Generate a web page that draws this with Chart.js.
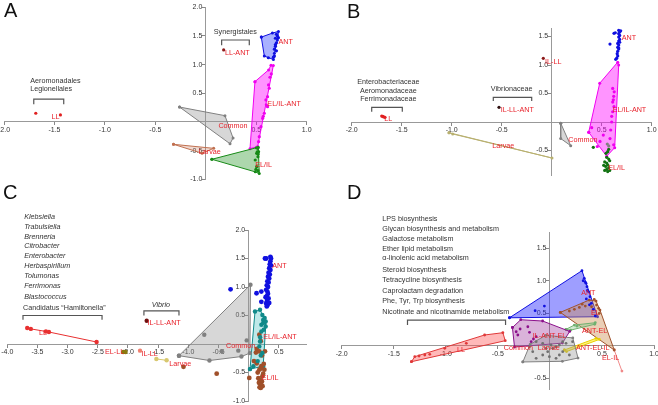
<!DOCTYPE html>
<html><head><meta charset="utf-8">
<script src="https://cdn.jsdelivr.net/npm/chart.js@4.4.1/dist/chart.umd.min.js"></script>
<style>
body{margin:0;width:658px;height:405px;overflow:hidden;background:#fff;position:relative;font-family:"Liberation Sans",Arial,sans-serif}
canvas{position:absolute}
.letter{position:absolute;font-size:20px;line-height:20px;color:#111;font-family:"Liberation Sans",Arial,sans-serif}
</style></head>
<body>
<canvas id="cA" width="330" height="195" style="left:0;top:0"></canvas>
<canvas id="cB" width="328" height="195" style="left:330px;top:0"></canvas>
<canvas id="cC" width="330" height="210" style="left:0;top:195px"></canvas>
<canvas id="cD" width="328" height="210" style="left:330px;top:195px"></canvas>
<div class="letter" style="left:4px;top:0px">A</div>
<div class="letter" style="left:347px;top:1px">B</div>
<div class="letter" style="left:3px;top:182px">C</div>
<div class="letter" style="left:347px;top:182px">D</div>
<script>
// ---------- Panel A data ----------
const A_ANT_hull=[[0.55,1.48],[0.66,1.55],[0.72,1.58],[0.71,1.43],[0.68,1.20],[0.67,1.09],[0.58,1.15]];
const A_ANT_pts=[[0.69,1.46],[0.70,1.38],[0.69,1.32],[0.68,1.27],[0.68,1.15],[0.72,1.47],[0.70,1.53],[0.62,1.12],[0.70,1.24],[0.69,1.35],[0.67,1.13],[0.71,1.50]];
const A_ELILANT_hull=[[0.487,0.703],[0.622,0.908],[0.646,0.99],[0.669,0.983],[0.514,-0.43],[0.438,-0.465]];
const A_ELILANT_pts=[[0.622,0.646],[0.629,0.588],[0.612,0.442],[0.596,0.384],[0.612,0.267],[0.58,0.152],[0.563,0.064],[0.547,-0.082],[0.53,-0.256],[0.523,-0.343],[0.636,0.78],[0.649,0.838],[0.60,0.30],[0.57,0.10]];
const A_ELIL_hull=[[0.06,-0.651],[0.50,-0.45],[0.52,-0.44],[0.53,-0.90],[0.49,-0.87]];
const A_ELIL_pts=[[0.514,-0.46],[0.523,-0.518],[0.504,-0.547],[0.517,-0.605],[0.49,-0.663],[0.504,-0.78],[0.497,-0.826],[0.517,-0.849],[0.51,-0.52],[0.52,-0.56]];
const A_Common_hull=[[-0.26,0.26],[0.19,0.11],[0.27,-0.28],[0.24,-0.38]];
const A_Larvae_hull=[[-0.32,-0.39],[0.078,-0.46],[-0.037,-0.546]];
const A_LL_pts=[[-1.685,0.152],[-1.441,0.122]];
const A_LLANT_pts=[[0.177,1.257]];
const A_labels=[["LL",-1.53,0.09],["LL-ANT",0.19,1.21],["ANT",0.72,1.40],["EL/IL-ANT",0.61,0.31],["Common",0.125,-0.07],["Larvae",-0.07,-0.52],["EL/IL",0.49,-0.75]];
const A_texts=[["Aeromonadales",-1.74,0.72,"left"],["Legionellales",-1.74,0.57,"left"],["Synergistales",0.293,1.565,"center"]];
const A_brackets=[[-1.705,-1.408,0.40,0.31],[0.157,0.431,1.43,1.34]];

// ---------- Panel B data ----------
const B_ANT_pts=[[0.67,1.61],[0.68,1.58],[0.67,1.55],[0.68,1.52],[0.67,1.49],[0.68,1.45],[0.67,1.42],[0.66,1.38],[0.67,1.35],[0.66,1.31],[0.67,1.28],[0.66,1.24],[0.655,1.2],[0.66,1.16],[0.65,1.12],[0.64,1.1],[0.623,1.556],[0.636,1.567],[0.583,1.368],[0.69,1.6],[0.68,1.4],[0.67,1.3]];
const B_ELILANT_hull=[[0.37,-0.18],[0.48,0.68],[0.66,1.05],[0.67,1.0],[0.63,-0.45],[0.55,-0.6]];
const B_ELILANT_pts=[[0.61,0.59],[0.625,0.53],[0.62,0.45],[0.616,0.39],[0.623,0.27],[0.61,0.18],[0.6,0.1],[0.6,0.0],[0.59,-0.14],[0.516,-0.23],[0.583,-0.29],[0.456,-0.43],[0.483,-0.34],[0.62,-0.4],[0.40,-0.1],[0.61,0.35]];
const B_ELIL_pts=[[0.416,-0.444],[0.543,-0.55],[0.57,-0.48],[0.56,-0.52],[0.55,-0.62],[0.57,-0.65],[0.53,-0.7],[0.55,-0.72],[0.56,-0.75],[0.54,-0.78],[0.57,-0.8],[0.55,-0.83],[0.53,-0.85],[0.56,-0.87],[0.58,-0.85],[0.52,-0.76],[0.58,-0.68]];
const B_Common_hull=[[0.09,-0.02],[0.09,-0.29],[0.19,-0.415]];
const B_Common_pts=[[0.556,-0.386],[0.57,-0.42]];
const B_Larvae_hull=[[-1.027,-0.187],[-0.99,-0.21],[0.003,-0.632]];
const B_LL_pts=[[-1.70,0.105],[-1.69,0.10],[-1.68,0.09],[-1.667,0.082]];
const B_ILLL_pts=[[-0.084,1.117]];
const B_ILLLANT_pts=[[-0.527,0.258]];
const B_labels=[["LL",-1.674,0.047],["IL-LL",-0.067,1.06],["IL-LL-ANT",-0.51,0.21],["Larvae",-0.594,-0.415],["Common",0.166,-0.316],["EL/IL-ANT",0.61,0.21],["ANT",0.70,1.48],["EL/IL",0.566,-0.81]];
const B_texts=[["Enterobacteriaceae",-1.634,0.707,"center"],["Aeromonadaceae",-1.634,0.549,"center"],["Ferrimonadaceae",-1.634,0.398,"center"],["Vibrionaceae",-0.4,0.584,"center"]];
const B_brackets=[[-1.8,-1.494,0.258,0.18],[-0.584,-0.2,0.433,0.368]];

// ---------- Panel C data ----------
const C_LL_line=[[-3.67,0.28],[-3.61,0.265],[-3.36,0.22],[-3.31,0.21],[-2.52,0.035]];
const C_ILLLANT_pts=[[-1.69,0.407]];
const C_ELLL_pts=[[-2.08,-0.14],[-2.04,-0.14]];
const C_ILLL_pts=[[-1.8,-0.117]];
const C_Larvae_line=[[-1.53,-0.262],[-1.36,-0.286]];
const C_Common_hull=[[-1.155,-0.205],[0.03,1.04],[0.02,-0.16],[-0.12,-0.22],[-0.65,-0.29]];
const C_Common_pts=[[-0.736,0.163],[-0.033,0.063],[-0.448,-0.128],[-0.172,-0.117]];
const C_ELILANT_hull=[[0.022,-0.44],[0.105,0.57],[0.188,0.6],[0.282,0.396],[0.282,0.308],[0.24,-0.39]];
const C_ELILANT_pts=[[0.227,0.51],[0.265,0.455],[0.24,0.367],[0.21,0.338],[0.21,0.22],[0.188,0.045],[0.177,-0.042],[0.227,-0.157],[0.2,-0.2],[0.077,-0.39],[0.25,0.25],[0.19,0.12],[0.15,-0.3],[0.24,0.42]];
const C_ANT_pts=[[-0.3,0.96],[0.13,0.89],[0.21,0.74],[0.27,1.5],[0.29,1.5],[0.36,1.53],[0.37,1.5],[0.36,1.45],[0.35,1.4],[0.37,1.38],[0.34,1.33],[0.36,1.3],[0.33,1.25],[0.35,1.22],[0.32,1.18],[0.34,1.15],[0.31,1.1],[0.33,1.08],[0.30,1.03],[0.32,1.0],[0.29,0.95],[0.31,0.92],[0.32,0.88],[0.30,0.84],[0.28,0.82],[0.31,0.78],[0.30,0.74],[0.29,0.71],[0.31,0.68],[0.30,0.66],[0.34,0.72],[0.33,0.8],[0.21,0.92]];
const C_ELIL_pts=[[0.177,0.163],[0.133,-0.088],[0.177,-0.13],[0.27,-0.128],[0.088,-0.3],[0.133,-0.34],[0.21,-0.39],[0.177,-0.45],[0.2,-0.43],[0.227,-0.566],[0.01,-0.595],[0.16,-0.6],[0.18,-0.62],[0.2,-0.64],[0.22,-0.66],[0.17,-0.68],[0.19,-0.7],[0.21,-0.72],[0.23,-0.74],[0.18,-0.76],[0.2,-0.77],[0.15,-0.5],[0.25,-0.35],[0.22,-0.2],[-0.53,-0.52],[0.24,-0.52],[0.26,-0.45],[0.12,-0.15],[0.2,0.05],[-1.08,-0.40]];
const C_labels=[["LL",-3.476,0.2],["IL-LL-ANT",-1.675,0.367],["EL-LL",-2.38,-0.14],["IL-LL",-1.778,-0.175],["Larvae",-1.316,-0.35],["Common",-0.376,-0.04],["EL/IL-ANT",0.24,0.116],["ANT",0.39,1.37],["EL/IL",0.215,-0.595]];
const C_texts=[["Klebsiella",-3.72,2.22,"left",1],["Trabulsiella",-3.72,2.05,"left",1],["Brenneria",-3.72,1.88,"left",1],["Citrobacter",-3.72,1.72,"left",1],["Enterobacter",-3.72,1.54,"left",1],["Herbaspirillum",-3.72,1.37,"left",1],["Tolumonas",-3.72,1.19,"left",1],["Ferrimonas",-3.72,1.01,"left",1],["Blastococcus",-3.72,0.82,"left",1],["Candidatus \u201cHamiltonella\u201d",-3.74,0.63,"left",0],["Vibrio",-1.454,0.687,"center",1]];
const C_brackets=[[-3.74,-2.43,0.5,0.425],[-1.736,-1.155,0.582,0.5]];

// ---------- Panel D data ----------
const D_ANT_hull=[[-0.388,0.43],[0.308,1.155],[0.458,0.446]];
const D_ANT_pts=[[0.33,1.037],[0.347,0.96],[0.356,0.908],[0.372,0.83],[0.385,0.754],[0.398,0.652],[0.38,0.63],[0.417,0.56],[0.436,0.457],[-0.142,0.539],[-0.053,0.61],[0.32,1.0],[0.34,0.98],[0.36,0.85],[0.35,0.72]];
const D_EL_hull=[[0.1,0.513],[0.378,0.703],[0.443,0.687],[0.481,0.549],[0.618,-0.066]];
const D_EL_pts=[[0.187,0.534],[0.235,0.56],[0.283,0.59],[0.34,0.61],[0.426,0.714],[0.448,0.626],[0.468,0.575],[0.474,0.498],[0.31,0.64],[0.4,0.6]];
const D_ANTEL_hull=[[0.155,0.252],[0.235,0.318],[0.436,0.354],[0.43,0.33],[0.2,0.24]];
const D_ANTEL_pts=[[0.26,0.3]];
const D_ANTELIL_hull=[[0.139,-0.066],[0.443,0.114],[0.475,0.097],[0.16,-0.09]];
const D_ELIL_line=[[0.618,-0.066],[0.692,-0.39]];
const D_ILANTEL_hull=[[-0.36,0.28],[-0.28,0.40],[-0.07,0.38],[0.19,0.22],[0.12,0.04],[-0.34,-0.02]];
const D_ILANTEL_pts=[[-0.324,0.215],[-0.286,0.257],[-0.308,0.165],[-0.196,0.206],[-0.158,0.103],[-0.18,0.062],[-0.132,0.139],[-0.212,0.292]];
const D_Common_hull=[[-0.26,-0.25],[-0.19,0.02],[-0.04,0.16],[0.22,0.12],[0.27,-0.19],[0.12,-0.24]];
const D_Common_pts=[[-0.196,-0.015],[-0.132,0.062],[-0.069,0.037],[-0.036,-0.04],[-0.021,-0.092],[0.011,0.011],[0.027,-0.04],[0.059,-0.015],[0.091,0.011],[0.123,0.062],[0.155,0.037],[0.123,-0.092],[0.091,-0.143],[0.059,-0.194],[-0.005,-0.169],[-0.069,-0.143],[-0.132,-0.194],[-0.165,-0.092],[0.187,-0.143],[0.218,0.062]];
const D_LL_hull=[[-1.33,-0.246],[-1.298,-0.169],[-0.627,0.165],[-0.452,0.2],[-0.429,0.077]];
const D_LL_pts=[[-1.257,-0.158],[-1.202,-0.143],[-1.154,-0.133],[-1.01,-0.04],[-0.803,0.037]];
const D_labels=[["LL",-0.893,-0.066],["Common",-0.443,-0.04],["Larvae",-0.117,-0.04],["IL-ANT-EL",-0.165,0.149],["ANT",0.30,0.806],["EL",0.395,0.498],["ANT-EL",0.309,0.231],["ANT-EL-IL",0.251,-0.04],["EL-IL",0.5,-0.195]];
const D_texts=[["LPS biosynthesis",-1.61,1.949,"left"],["Glycan biosynthesis and metabolism",-1.61,1.80,"left"],["Galactose metabolism",-1.61,1.646,"left"],["Ether lipid metabolism",-1.61,1.492,"left"],["\u03b1-linolenic acid metabolism",-1.61,1.345,"left"],["Steroid biosynthesis",-1.61,1.165,"left"],["Tetracycline biosynthesis",-1.61,1.006,"left"],["Caprolactam degradation",-1.61,0.846,"left"],["Phe, Tyr, Trp biosynthesis",-1.61,0.683,"left"],["Nicotinate and nicotinamide metabolism",-1.61,0.523,"left"]];
const D_brackets=[[-1.368,-0.426,0.395,0.318]];

// ---------- helpers ----------
const FONT='"Liberation Sans", Arial, sans-serif';
const toXY=a=>a.map(p=>({x:p[0],y:p[1]}));
function poly(hull,color,fill,r,closed=true){
  const d=toXY(closed?hull.concat([hull[0]]):hull);
  return {data:d,showLine:true,fill:fill?'shape':false,backgroundColor:fill||'transparent',borderColor:color,borderWidth:1,
    pointRadius:r,pointBackgroundColor:color,pointBorderWidth:0,tension:0,clip:false,order:2};
}
function pts(a,color,r){
  return {data:toXY(a),showLine:false,pointRadius:r,pointBackgroundColor:color,pointBorderColor:color,pointBorderWidth:0,backgroundColor:color,clip:false,order:1};
}
function scales(xmin,xmax,ymin,ymax){
  const base=()=>({type:'linear',
    grid:{display:true,drawOnChartArea:false,drawTicks:true,tickLength:3,color:'#888',tickColor:'#888',lineWidth:1},
    border:{display:true,color:'#999',width:1},
    ticks:{stepSize:0.5,includeBounds:false,autoSkip:false,maxRotation:0,color:'#333',padding:1,
      font:{size:7,family:FONT}},
    afterFit:s=>{if(s.isHorizontal()){s.height=0;}else{s.width=0;}s.paddingLeft=s.paddingRight=s.paddingTop=s.paddingBottom=0;}
  });
  const x=Object.assign(base(),{min:xmin,max:xmax,position:{y:0}});
  x.ticks.callback=v=>Math.abs(v)<1e-9?'':Number(v).toFixed(1);
  const y=Object.assign(base(),{min:ymin,max:ymax,position:{x:0}});
  y.ticks.callback=v=>Math.abs(v)<1e-9?'':Number(v).toFixed(1)+'\u2002';
  return {x,y};
}
function annot(labels,texts,brackets){
  return {id:'annot',afterDatasetsDraw(chart){
    const ctx=chart.ctx,X=v=>chart.scales.x.getPixelForValue(v),Y=v=>chart.scales.y.getPixelForValue(v);
    ctx.save();
    ctx.strokeStyle='#555';ctx.lineWidth=1.2;
    for(const b of brackets){ctx.beginPath();ctx.moveTo(X(b[0]),Y(b[3]));ctx.lineTo(X(b[0]),Y(b[2]));ctx.lineTo(X(b[1]),Y(b[2]));ctx.lineTo(X(b[1]),Y(b[3]));ctx.stroke();}
    ctx.textBaseline='middle';
    for(const t of texts){ctx.fillStyle='#333';ctx.textAlign=t[3];ctx.font=(t[4]?'italic ':'')+'7.2px '+FONT;ctx.fillText(t[0],X(t[1]),Y(t[2]));}
    ctx.fillStyle='#e8222b';ctx.textAlign='left';ctx.font='7.2px '+FONT;
    for(const l of labels){ctx.fillText(l[0],X(l[1]),Y(l[2]));}
    ctx.restore();
  }};
}
function make(id,datasets,sc,pad,plugin){
  return new Chart(document.getElementById(id),{type:'scatter',data:{datasets},
    options:{responsive:false,animation:false,events:[],layout:{padding:pad},
      plugins:{legend:{display:false},tooltip:{enabled:false},title:{display:false}},scales:sc},
    plugins:[plugin]});
}

// ---------- Panel A ----------
make('cA',[
  poly(A_Common_hull,'#808080','rgba(150,150,150,0.38)',1.5),
  poly(A_Larvae_hull,'#c07050','rgba(205,120,85,0.28)',1.5),
  poly(A_ELIL_hull,'#178a17','rgba(40,150,40,0.38)',1.5),
  poly(A_ELILANT_hull,'#f000f0','rgba(255,0,255,0.42)',1.5),
  poly(A_ANT_hull,'#1010e0','rgba(40,60,255,0.40)',1.5),
  pts(A_ANT_pts,'#1010e0',1.6),pts(A_ELILANT_pts,'#f000f0',1.6),pts(A_ELIL_pts,'#178a17',1.6),
  pts(A_LL_pts,'#e02020',1.6),pts(A_LLANT_pts,'#8b1a1a',1.6)
],scales(-2,1,-1,2),{left:3.3,right:23.3,top:7.3,bottom:15.7},annot(A_labels,A_texts,A_brackets));

// ---------- Panel B ----------
make('cB',[
  poly(B_Common_hull,'#808080','rgba(150,150,150,0.38)',1.5),
  poly(B_Larvae_hull,'#b8b070','rgba(190,180,110,0.3)',1.5),
  poly(B_ELILANT_hull,'#f000f0','rgba(255,0,255,0.42)',1.5),
  pts(B_ANT_pts,'#1010e0',1.6),pts(B_ELILANT_pts,'#f000f0',1.6),pts(B_ELIL_pts,'#127212',1.6),
  pts(B_Common_pts,'#808080',1.6),pts(B_LL_pts,'#e02020',1.6),pts(B_ILLL_pts,'#8b1a1a',1.6),pts(B_ILLLANT_pts,'#301010',1.6)
],scales(-2,1,-0.93,1.65),{left:21.7,right:6.3,top:28,bottom:20},annot(B_labels,B_texts,B_brackets));

// ---------- Panel C ----------
make('cC',[
  poly(C_Common_hull,'#808080','rgba(150,150,150,0.38)',2.2),
  poly(C_ELILANT_hull,'#108a8a','rgba(70,190,190,0.35)',2.2),
  poly(C_LL_line,'#e83030',null,2.2,false),
  poly(C_Larvae_line,'#d8c870',null,2.2,false),
  pts(C_Common_pts,'#808080',2.2),pts(C_ELILANT_pts,'#108a8a',2.2),
  pts(C_ANT_pts,'#1010e0',2.4),pts(C_ELIL_pts,'#a0502a',2.4),
  pts(C_ILLLANT_pts,'#701010',2.2),pts(C_ELLL_pts,'#8a7a10',2.2),pts(C_ILLL_pts,'#f08070',2.2)
],scales(-4,0.95,-1,2),{left:7.3,right:24,top:35,bottom:3.3},annot(C_labels,C_texts,C_brackets));

// ---------- Panel D ----------
make('cD',[
  poly(D_LL_hull,'#e03838','rgba(255,70,70,0.38)',1.4),
  poly(D_Common_hull,'#808080','rgba(150,150,150,0.38)',1.4),
  poly(D_ILANTEL_hull,'#8b108b','rgba(140,20,140,0.32)',1.4),
  poly(D_ANTELIL_hull,'#e8d000','rgba(255,230,0,0.5)',1.4),
  poly(D_ANTEL_hull,'#70b070','rgba(140,200,140,0.4)',1.4),
  poly(D_EL_hull,'#a0522d','rgba(205,140,80,0.42)',1.4),
  poly(D_ANT_hull,'#1010e0','rgba(40,40,255,0.45)',1.4),
  poly(D_ELIL_line,'#f08a8a',null,1.4,false),
  pts(D_LL_pts,'#e03838',1.4),pts(D_Common_pts,'#707070',1.4),pts(D_ILANTEL_pts,'#8b108b',1.4),
  pts(D_ANTEL_pts,'#70b070',1.4),pts(D_EL_pts,'#a0522d',1.4),pts(D_ANT_pts,'#1010e0',1.4)
],scales(-2,1,-0.68,1.75),{left:11.7,right:3,top:37,bottom:15.1},annot(D_labels,D_texts,D_brackets));
</script>
</body></html>
